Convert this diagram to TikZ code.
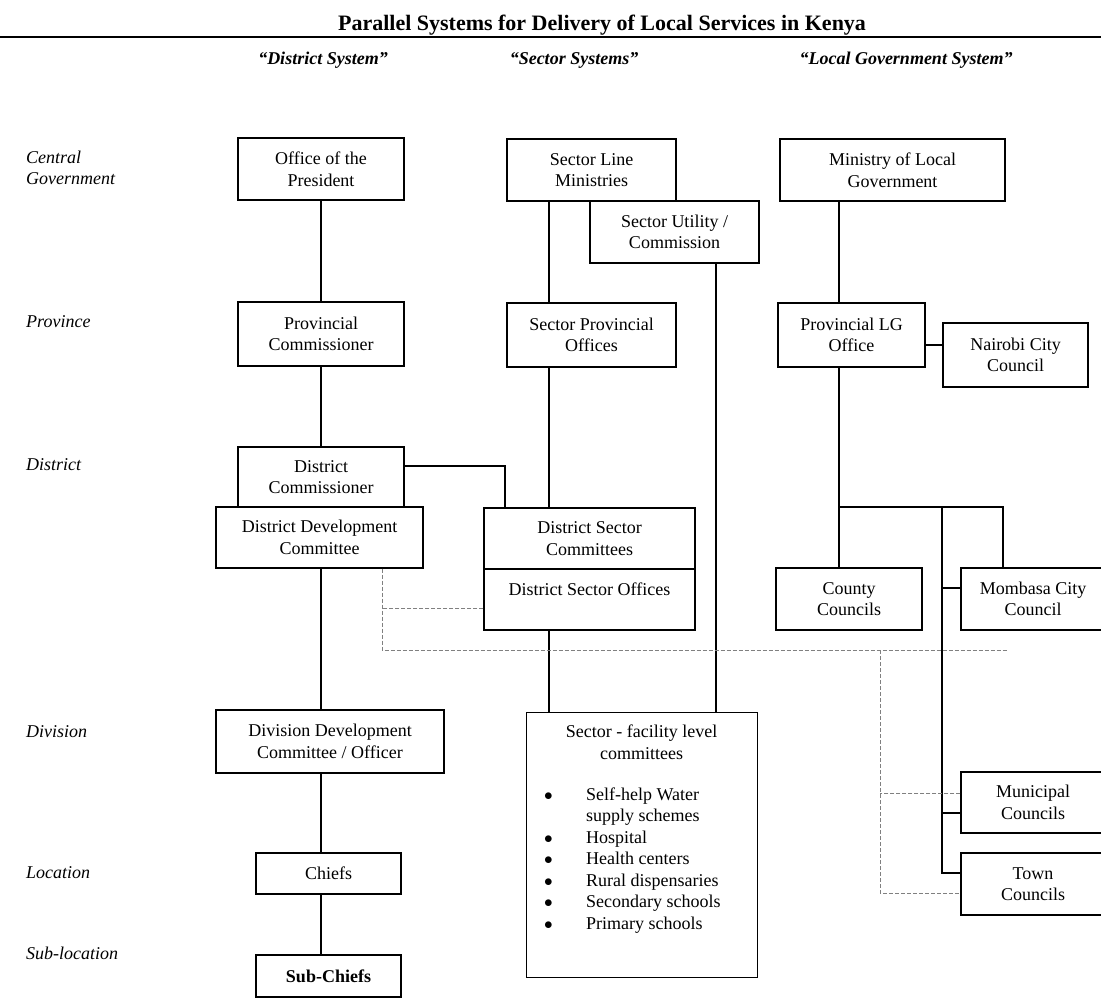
\documentclass[tikz,border=0pt]{standalone}
\usepackage{fontspec}
\setmainfont{Liberation Serif}
\newcommand{\boxfont}{\fontsize{18}{21.5}\selectfont}

\begin{document}
\begin{tikzpicture}[x=1pt, y=-1pt,
    unit/.style={draw, line width=1.2pt, align=center, inner sep=0pt, font=\boxfont},
    link/.style={line width=1.1pt},
    weak/.style={gray, line width=0.6pt, dash pattern=on 4pt off 2pt},
    level/.style={anchor=west, align=left, inner sep=0pt, font=\boxfont\itshape},
    head/.style={font=\boxfont\bfseries\itshape}]
    \useasboundingbox (0,0) rectangle (1101,999);

    % Title and rule
    \node[font=\fontsize{22}{26}\selectfont\bfseries] (title) at (602,25)
        {Parallel Systems for Delivery of Local Services in Kenya};
    \draw[line width=1.8pt] (0,37) -- (1101,37);

    % Column heads
    \node[head] (hdistrict) at (323,60) {``District System''};
    \node[head] (hsector) at (574,60) {``Sector Systems''};
    \node[head] (hlocal) at (906,60) {``Local Government System''};

    % Levels
    \node[level] (lcentral) at (26,168) {Central\\Government};
    \node[level] (lprovince) at (26,322) {Province};
    \node[level] (ldistrict) at (26,465) {District};
    \node[level] (ldivision) at (26,732) {Division};
    \node[level] (llocation) at (26,873) {Location};
    \node[level] (lsublocation) at (26,953) {Sub-location};

    % District system
    \node[unit, minimum width=166pt, minimum height=62pt] (pres) at (321,169) {Office of the\\President};
    \node[unit, minimum width=166pt, minimum height=64pt] (pc) at (321,334) {Provincial\\Commissioner};
    \node[unit, minimum width=166pt, minimum height=60pt] (dc) at (321,477) {District\\Commissioner};
    \node[unit, minimum width=207pt, minimum height=61pt] (ddc) at (319.5,537.5) {District Development\\Committee};
    \node[unit, minimum width=228pt, minimum height=63pt] (division) at (330,741.5) {Division Development\\Committee / Officer};
    \node[unit, minimum width=145pt, minimum height=41pt] (chiefs) at (328.5,873.5) {Chiefs};
    \node[unit, minimum width=145pt, minimum height=42pt] (subchiefs) at (328.5,976) {\textbf{Sub-Chiefs}};

    % Sector systems
    \node[unit, minimum width=169pt, minimum height=62pt] (slm) at (591.5,170) {Sector Line\\Ministries};
    \node[unit, minimum width=169pt, minimum height=62pt, fill=white] (suc) at (674.5,232) {Sector Utility /\\Commission};
    \node[unit, minimum width=169pt, minimum height=64pt] (spo) at (591.5,335) {Sector Provincial\\Offices};
    \node[unit, minimum width=211pt, minimum height=61pt] (dsc) at (589.5,538.5) {District Sector\\Committees};
    \node[unit, minimum width=211pt, minimum height=61pt] (dso) at (589.5,599.5) {District Sector Offices\\\mbox{}};
    \node[unit, line width=0.7pt, minimum width=231pt, minimum height=265pt] (facility) at (641.5,844.5) {};
    \node[font=\boxfont, align=center, inner sep=0pt] (factitle) at (641.5,742) {Sector - facility level\\committees};
    \node[font=\boxfont, anchor=north west, inner sep=0pt] (faclist) at (544,785) {%
        \begin{tabular}{@{}p{42pt}@{}l@{}}
        $\bullet$ & Self-help Water\\
                  & supply schemes\\
        $\bullet$ & Hospital\\
        $\bullet$ & Health centers\\
        $\bullet$ & Rural dispensaries\\
        $\bullet$ & Secondary schools\\
        $\bullet$ & Primary schools
        \end{tabular}};

    % Local government system
    \node[unit, minimum width=225pt, minimum height=62pt] (mlg) at (892.5,170) {Ministry of Local\\Government};
    \node[unit, minimum width=147pt, minimum height=64pt] (plg) at (851.5,335) {Provincial LG\\Office};
    \node[unit, minimum width=145pt, minimum height=64pt] (nairobi) at (1015.5,355) {Nairobi City\\Council};
    \node[unit, minimum width=146pt, minimum height=62pt] (county) at (849,599) {County\\Councils};
    \node[unit, minimum width=144pt, minimum height=62pt] (mombasa) at (1033,599) {Mombasa City\\Council};
    \node[unit, minimum width=144pt, minimum height=61pt] (municipal) at (1033,802.5) {Municipal\\Councils};
    \node[unit, minimum width=144pt, minimum height=62pt] (town) at (1033,884) {Town\\Councils};

    % District links
    \draw[link] (pres) -- (pc);
    \draw[link] (pc) -- (dc);
    \draw[link] (ddc.south -| pres.south) -- (division.north -| pres.south);
    \draw[link] (division.south -| pres.south) -- (chiefs.north -| pres.south);
    \draw[link] (chiefs.south -| pres.south) -- (subchiefs.north -| pres.south);
    \draw[link] ([yshift=11pt]dc.east) -| ([xshift=-84.5pt]dsc.north);

    % Sector links
    \coordinate (sline) at ([xshift=-42.5pt]slm.south);
    \draw[link] (sline) -- (sline |- spo.north);
    \draw[link] (sline |- spo.south) -- (sline |- dsc.north);
    \draw[link] (sline |- dso.south) -- (sline |- facility.north);
    \draw[link] ([xshift=41.5pt]suc.south) -- ([xshift=41.5pt]suc.south |- facility.north);

    % Local government links
    \coordinate (lgline) at ([xshift=-12.5pt]plg.north);
    \coordinate (split) at (lgline |- 0,507);
    \coordinate (lgtrunk) at (942,507);
    \draw[link] (lgline |- mlg.south) -- (lgline);
    \draw[link] ([yshift=-10pt]plg.east) -- ([yshift=-10pt]plg.east -| nairobi.west);
    \draw[link] (lgline |- plg.south) -- (lgline |- county.north);
    \draw[link] (split) -| ([xshift=-30pt]mombasa.north);
    \draw[link] (lgtrunk) |- ([yshift=11pt]town.west);
    \draw[link] ([yshift=11pt]mombasa.west) -- ([yshift=11pt]mombasa.west -| lgtrunk);
    \draw[link] ([yshift=-10.5pt]municipal.west) -- ([yshift=-10.5pt]municipal.west -| lgtrunk);

    % Weak (dashed) links
    \coordinate (ddcweak) at ([xshift=62.5pt]ddc.south);
    \coordinate (weakend) at (1007,650);
    \coordinate (lgweak) at (880,650);
    \draw[weak] (ddcweak) |- (weakend);
    \draw[weak] ([yshift=-8.5pt]dso.west) -- ([yshift=-8.5pt]dso.west -| ddcweak);
    \draw[weak] (lgweak) |- ([yshift=-9pt]town.west);
    \draw[weak] ([yshift=9.5pt]municipal.west) -- ([yshift=9.5pt]municipal.west -| lgweak);
\end{tikzpicture}
\end{document}
